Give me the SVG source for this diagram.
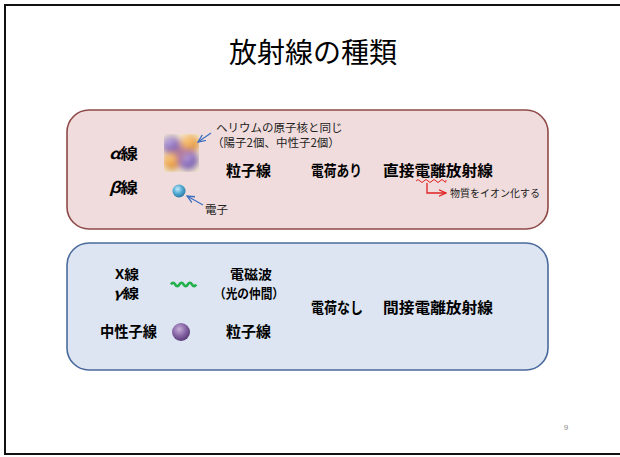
<svg xmlns="http://www.w3.org/2000/svg" width="620" height="457" viewBox="0 0 620 457">
  <defs>
    <style>
      .jp { font-family: "Noto Sans CJK JP", "Noto Sans", sans-serif; fill: #000; }
      .lbl { font-size: 15px; font-weight: bold; }
      .lbl-tight { font-size: 13px; font-weight: bold; }
      .note { font-size: 11.5px; fill: #222; }
      .small { font-size: 10px; fill: #222; }
      .box-charged { fill: #f0dcdc; stroke: #8e4a48; stroke-width: 1.6; }
      .box-neutral { fill: #dce5f1; stroke: #4a6a9c; stroke-width: 1.6; }
      .pointer { fill: none; stroke: #3b6ec0; stroke-width: 1.2; }
    </style>
    <marker id="arrow-blue" viewBox="0 0 10 10" refX="9" refY="5" markerWidth="7" markerHeight="7" orient="auto">
      <path d="M0,1 L9,5 L0,9" fill="none" stroke="#3b6ec0" stroke-width="1.5"/>
    </marker>
    <marker id="arrow-red" viewBox="0 0 10 10" refX="9" refY="5" markerWidth="6" markerHeight="6" orient="auto">
      <path d="M0,1 L9,5 L0,9" fill="none" stroke="#e02020" stroke-width="1.5"/>
    </marker>
    <radialGradient id="g-purple" cx="0.4" cy="0.35" r="0.65">
      <stop offset="0" stop-color="#d8c8f0"/>
      <stop offset="0.5" stop-color="#8a6cc0"/>
      <stop offset="1" stop-color="#6a50a0"/>
    </radialGradient>
    <radialGradient id="g-orange" cx="0.4" cy="0.35" r="0.65">
      <stop offset="0" stop-color="#ffe0a0"/>
      <stop offset="0.5" stop-color="#f0a040"/>
      <stop offset="1" stop-color="#c88030"/>
    </radialGradient>
    <radialGradient id="g-electron" cx="0.4" cy="0.35" r="0.65">
      <stop offset="0" stop-color="#c8ecf8"/>
      <stop offset="0.5" stop-color="#5ab0d8"/>
      <stop offset="1" stop-color="#2a7aa8"/>
    </radialGradient>
    <radialGradient id="g-neutron" cx="0.4" cy="0.35" r="0.65">
      <stop offset="0" stop-color="#c8b0d8"/>
      <stop offset="0.55" stop-color="#8a68a8"/>
      <stop offset="1" stop-color="#5a3c78"/>
    </radialGradient>
    <filter id="soft" x="-20%" y="-20%" width="140%" height="140%">
      <feGaussianBlur stdDeviation="3"/>
    </filter>
    <filter id="soft-light" x="-30%" y="-30%" width="160%" height="160%">
      <feGaussianBlur stdDeviation="0.7"/>
    </filter>
    <clipPath id="clip-alpha">
      <rect x="164" y="134" width="35" height="38"/>
    </clipPath>
  </defs>

  <!-- page frame -->
  <rect x="5" y="5" width="625" height="449" fill="#fff" stroke="#111" stroke-width="2"/>

  <!-- title -->
  <text class="jp" x="313" y="63" font-size="28" text-anchor="middle">放射線の種類</text>

  <!-- charged radiation panel -->
  <g id="panel-charged">
    <rect class="box-charged" x="67" y="110" width="481" height="119" rx="22" ry="22"/>
    <text class="jp lbl" x="109" y="159" textLength="29" lengthAdjust="spacingAndGlyphs"><tspan font-style="italic">α</tspan>線</text>
    <text class="jp lbl" x="109" y="193" textLength="29" lengthAdjust="spacingAndGlyphs"><tspan font-style="italic">β</tspan>線</text>
    <text class="jp lbl" x="226" y="176">粒子線</text>
    <text class="jp lbl" x="311" y="176" textLength="51" lengthAdjust="spacingAndGlyphs">電荷あり</text>
    <text class="jp lbl" x="383" y="176" textLength="110" lengthAdjust="spacingAndGlyphs">直接電離放射線</text>
  </g>

  <!-- alpha particle: two protons + two neutrons -->
  <g id="alpha-particle">
    <g clip-path="url(#clip-alpha)">
      <rect x="164" y="134" width="35" height="38" fill="#f2e6d0"/>
      <g filter="url(#soft)">
        <circle cx="171" cy="145" r="9" fill="url(#g-purple)"/>
        <circle cx="190" cy="144" r="9" fill="url(#g-orange)"/>
        <circle cx="172" cy="161" r="9" fill="url(#g-orange)"/>
        <circle cx="188" cy="160" r="10" fill="url(#g-purple)"/>
        <circle cx="181" cy="153" r="6" fill="#b07aa0"/>
      </g>
    </g>
  </g>

  <!-- electron -->
  <g id="electron">
    <circle cx="179" cy="191" r="6.5" fill="url(#g-electron)" filter="url(#soft-light)"/>
  </g>

  <!-- annotations -->
  <g id="note-helium">
    <text class="jp note" x="216" y="132">ヘリウムの原子核と同じ</text>
    <text class="jp note" x="212" y="147">（陽子2個、中性子2個）</text>
  </g>
  <g id="note-electron">
    <text class="jp note" x="205" y="214">電子</text>
  </g>
  <g id="note-ionize">
    <path d="M416,181 q2,-3 4,0 t4,0 t4,0 t4,0 t4,0 t4,0 t4,0 t2,-1" fill="none" stroke="#e02020" stroke-width="1"/>
    <text class="jp small" x="450" y="197">物質をイオン化する</text>
  </g>

  <!-- neutral radiation panel -->
  <g id="panel-neutral">
    <rect class="box-neutral" x="67" y="243" width="481" height="127" rx="22" ry="22"/>
    <text class="jp lbl-tight" x="115" y="279" textLength="24" lengthAdjust="spacingAndGlyphs">X線</text>
    <text class="jp lbl-tight" x="113" y="298" textLength="26" lengthAdjust="spacingAndGlyphs"><tspan font-style="italic">γ</tspan>線</text>
    <text class="jp lbl-tight" x="230" y="279" textLength="42" lengthAdjust="spacingAndGlyphs">電磁波</text>
    <text class="jp lbl-tight" x="214" y="298" textLength="70" lengthAdjust="spacingAndGlyphs">（光の仲間）</text>
    <text class="jp lbl" x="311" y="313" textLength="52" lengthAdjust="spacingAndGlyphs">電荷なし</text>
    <text class="jp lbl" x="383" y="313" textLength="110" lengthAdjust="spacingAndGlyphs">間接電離放射線</text>
    <text class="jp lbl" x="100" y="337" textLength="57" lengthAdjust="spacingAndGlyphs">中性子線</text>
    <text class="jp lbl" x="226" y="337">粒子線</text>
  </g>

  <!-- photon wave -->
  <g id="photon">
    <path d="M171,284.5 q2.1,-3.5 4.2,0 t4.2,0 t4.2,0 t4.2,0 t4.2,0 t4.2,0" fill="none" stroke="#22b04a" stroke-width="2.6"/>
  </g>

  <!-- neutron -->
  <g id="neutron">
    <circle cx="181" cy="332" r="9" fill="url(#g-neutron)" filter="url(#soft-light)"/>
  </g>

  <!-- connectors -->
  <g id="connectors">
    <line class="pointer" x1="211" y1="133" x2="198" y2="142" marker-end="url(#arrow-blue)"/>
    <line class="pointer" x1="203" y1="205" x2="187" y2="196" marker-end="url(#arrow-blue)"/>
    <path d="M427,183 V193 H446" fill="none" stroke="#e02020" stroke-width="1.3" marker-end="url(#arrow-red)"/>
  </g>

  <!-- page number -->
  <text x="566" y="430" font-family="Liberation Sans, sans-serif" font-size="8" fill="#888" text-anchor="middle">9</text>
</svg>
